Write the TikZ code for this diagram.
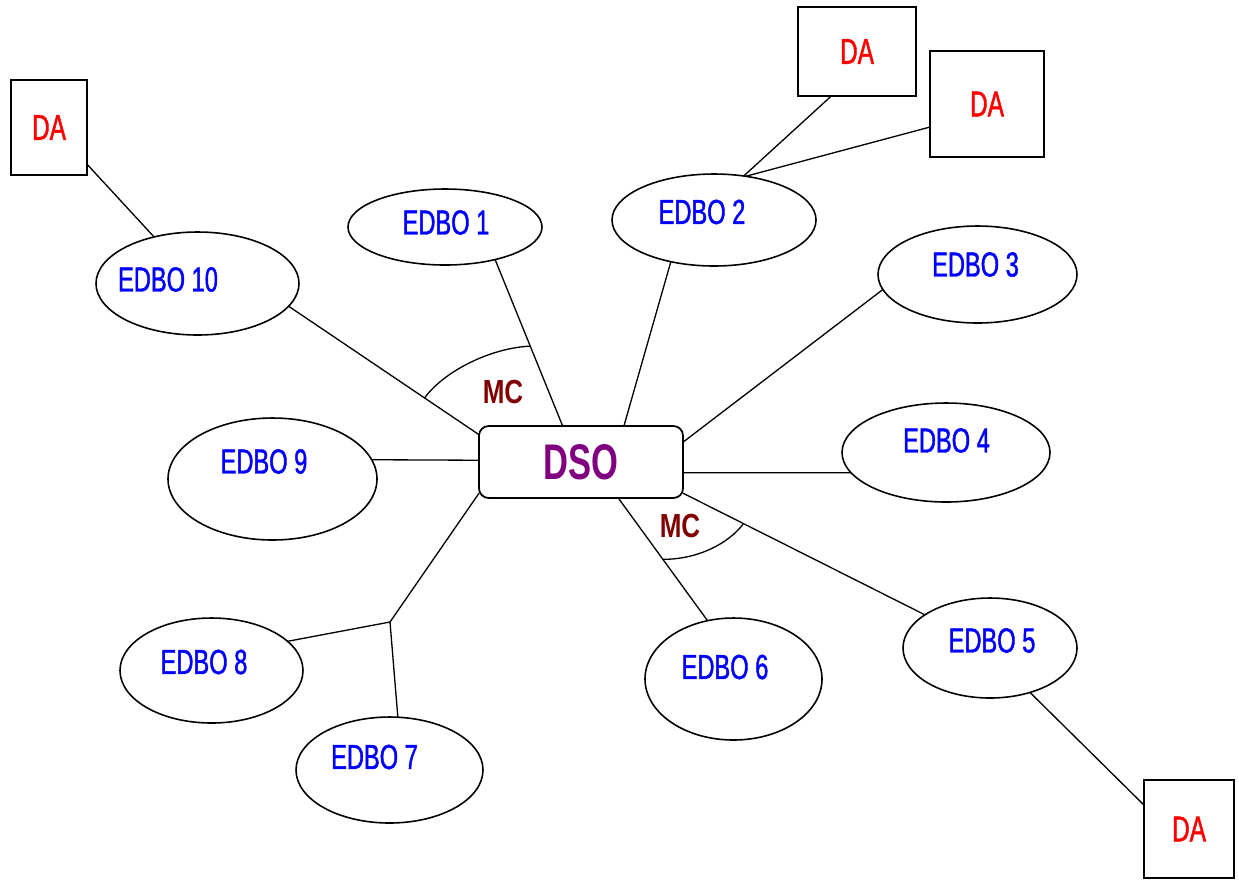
\documentclass[tikz,border=0pt]{standalone}
\usepackage{fontspec}
\usetikzlibrary{shapes.geometric,calc}
\newfontfamily\narrowsans[FakeStretch=0.68,FakeBold=1.2]{Liberation Sans}
\newfontfamily\hubsans[FakeStretch=0.69]{Liberation Sans}
\newfontfamily\mcsans[FakeStretch=0.78]{Liberation Sans}
\definecolor{edboblue}{RGB}{0,0,255}
\definecolor{dared}{RGB}{255,0,0}
\definecolor{mcred}{RGB}{128,0,0}
\definecolor{dsopurple}{RGB}{128,0,128}
\newcommand\pxu{0.02cm}

\tikzset{
  conn/.style={draw=black, line width=0.75pt},
  edbo/.style={ellipse, draw=black, line width=0.9pt, inner sep=0pt, outer sep=0pt},
  edbolbl/.style={inner sep=0pt, text=edboblue,
    font=\narrowsans\fontsize{19.8pt}{22pt}\selectfont},
  dabox/.style={rectangle, draw=black, line width=1.2pt, inner sep=0pt, outer sep=0pt,
    text=dared, font=\narrowsans\fontsize{20.5pt}{22pt}\selectfont},
  hub/.style={rectangle, rounded corners=5.5pt, draw=black, line width=1pt,
    inner sep=0pt, outer sep=0pt, text=dsopurple,
    font=\hubsans\bfseries\fontsize{28.5pt}{30pt}\selectfont},
  mclbl/.style={inner sep=0pt, text=mcred,
    font=\mcsans\bfseries\fontsize{19pt}{21pt}\selectfont}
}

\begin{document}
\begin{tikzpicture}[x=\pxu, y=-\pxu]
\useasboundingbox (0,0) rectangle (1239,880);

% central hub
\node[hub, minimum width=204*\pxu, minimum height=72*\pxu] (dso) at (581,462) {DSO};

% EDBO ellipses
\node[edbo, minimum width=194*\pxu, minimum height=76*\pxu]  (e1)  at (445,227) {};
\node[edbo, minimum width=204*\pxu, minimum height=92*\pxu]  (e2)  at (714,220) {};
\node[edbo, minimum width=199*\pxu, minimum height=97*\pxu]  (e3)  at (977.5,274.5) {};
\node[edbo, minimum width=208*\pxu, minimum height=99*\pxu]  (e4)  at (946,452.5) {};
\node[edbo, minimum width=174*\pxu, minimum height=100*\pxu] (e5)  at (990,648) {};
\node[edbo, minimum width=177*\pxu, minimum height=122*\pxu] (e6)  at (733.5,679) {};
\node[edbo, minimum width=187*\pxu, minimum height=106*\pxu] (e7)  at (389.5,770) {};
\node[edbo, minimum width=183*\pxu, minimum height=105*\pxu] (e8)  at (211.5,670.5) {};
\node[edbo, minimum width=209*\pxu, minimum height=122*\pxu] (e9)  at (272.5,479) {};
\node[edbo, minimum width=203*\pxu, minimum height=103*\pxu] (e10) at (197.5,283.5) {};

% EDBO labels
\node[edbolbl] (t1)  at (446,222.5)   {EDBO 1};
\node[edbolbl] (t2)  at (702,212)     {EDBO 2};
\node[edbolbl] (t3)  at (975.5,264.5) {EDBO 3};
\node[edbolbl] (t4)  at (946.5,440.5) {EDBO 4};
\node[edbolbl] (t5)  at (992,640.5)   {EDBO 5};
\node[edbolbl] (t6)  at (725,667)     {EDBO 6};
\node[edbolbl] (t7)  at (374.5,757)   {EDBO 7};
\node[edbolbl] (t8)  at (204,662)     {EDBO 8};
\node[edbolbl] (t9)  at (264,461.5)   {EDBO 9};
\node[edbolbl] (t10) at (168,279.5)   {EDBO 10};

% DA boxes
\node[dabox, minimum width=118*\pxu, minimum height=89*\pxu]  (da1) at (857,51.5) {DA};
\node[dabox, minimum width=114*\pxu, minimum height=106*\pxu] (da2) at (987,104)  {DA};
\node[dabox, minimum width=76*\pxu,  minimum height=95*\pxu]  (da3) at (49,127.5) {DA};
\node[dabox, minimum width=90*\pxu,  minimum height=98*\pxu]  (da4) at (1189,829) {DA};

% branch point for EDBO 7 / EDBO 8
\coordinate (j78) at (390,622);

% links from the hub
\draw[conn] (dso.117)  -- (e1.-33);
\draw[conn] (dso.40)   -- (e2.-136);
\draw[conn] (dso.11)   -- (e3.189);
\draw[conn] (dso.-6)   -- (e4.-168);
\draw[conn] (dso.-17)  -- (e5.153);
\draw[conn] (dso.-44)  -- (e6.114);
\draw[conn] (dso.-163) -- (j78);
\draw[conn] (j78) -- (e8.21);
\draw[conn] (j78) -- (e7.81);
\draw[conn] (dso.179)  -- (e9.11);
\draw[conn] (dso.165)  -- (e10.-14);

% DA attachments
\draw[conn] (e10.133) -- (da3.-44);
\draw[conn] (e2.56)   -- (da1.-120);
\draw[conn] (e2.54)   -- (da2.-158);
\draw[conn] (e5.-48)  -- (da4.152);

% MC arcs
\coordinate (a1) at ($(dso.165)!0.286!(e10.-14)$);
\coordinate (a2) at ($(dso.117)!0.48!(e1.-33)$);
\draw[conn] (a1) .. controls +(19,-26) and +(-41,2) .. (a2);
\coordinate (b1) at ($(dso.-44)!0.5!(e6.114)$);
\coordinate (b2) at ($(dso.-17)!0.25!(e5.153)$);
\draw[conn] (b1) .. controls +(35,0) and +(-15,20) .. (b2);

\node[mclbl] (mc1) at (503,392)   {MC};
\node[mclbl] (mc2) at (680,525.5) {MC};
\end{tikzpicture}
\end{document}
